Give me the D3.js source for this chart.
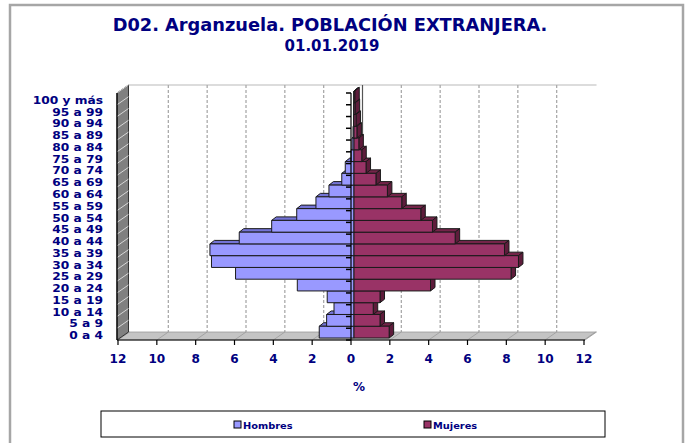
<!DOCTYPE html>
<html>
<head>
<meta charset="utf-8">
<script src="https://cdn.jsdelivr.net/npm/d3@7"></script>
<style>
  body { margin: 0; background: #fff; }
  text { font-family: "DejaVu Sans", Verdana, sans-serif; font-weight: bold; fill: #000080; }
</style>
</head>
<body>
<div id="chart"></div>
<script>
// age groups, bottom to top
const ageGroups = ["0 a 4", "5 a 9", "10 a 14", "15 a 19", "20 a 24", "25 a 29", "30 a 34",
  "35 a 39", "40 a 44", "45 a 49", "50 a 54", "55 a 59", "60 a 64", "65 a 69", "70 a 74",
  "75 a 79", "80 a 84", "85 a 89", "90 a 94", "95 a 99", "100 y más"];
// % of foreign population
const hombres = [1.79, 1.41, 1.03, 1.38, 2.92, 6.10, 7.34, 7.42, 5.91, 4.24, 2.95, 1.96, 1.29,
  0.63, 0.45, 0.15, 0.10, 0.05, 0.02, 0.01, 0.0];
const mujeres = [1.81, 1.34, 0.99, 1.34, 3.94, 8.09, 8.47, 7.75, 5.21, 4.04, 3.44, 2.46, 1.72,
  1.13, 0.62, 0.40, 0.25, 0.15, 0.10, 0.06, 0.04];
const xTicks = [-12, -10, -8, -6, -4, -2, 0, 2, 4, 6, 8, 10, 12];
const series = ["Hombres", "Mujeres"];

const width = 689, height = 443;
const wall = { dx: 11.5, dy: 8 };      // depth of the back wall
const barOff = { dx: 3, dy: 2 };       // bars sit a bit behind the front plane
const barDepth = { dx: 4.5, dy: 3.5 };
const stretch = 1.2;                   // the original font is wide and short

const colors = {
  Hombres: { front: "#9999ff", top: "#7474d6", side: "#6a6acc" },
  Mujeres: { front: "#993366", top: "#742449", side: "#5e1c3b" }
};

const svg = d3.select("#chart").append("svg")
  .attr("width", width).attr("height", height);

// outer frame
svg.append("rect")
  .attr("x", 10).attr("y", 5).attr("width", 673).attr("height", 460)
  .attr("fill", "none").attr("stroke", "#a6a6a6").attr("stroke-width", 2.5);

// title
svg.append("text").attr("x", 330).attr("y", 31).attr("text-anchor", "middle")
  .attr("font-size", 17.8).text("D02. Arganzuela. POBLACIÓN EXTRANJERA.");
svg.append("text").attr("x", 332).attr("y", 51).attr("text-anchor", "middle")
  .attr("font-size", 15).text("01.01.2019");

// scales (front plane)
const x = d3.scaleLinear().domain([-12, 12]).range([118, 584]);
const y = d3.scaleBand().domain(ageGroups).range([340, 93]).padding(0);
const bw = y.bandwidth();
const plotTop = 93, plotBottom = 340, plotLeft = x(-12) - 1, plotRight = x(12) + 1;

const poly = pts => pts.map(p => p.join(",")).join(" ");

// back wall
svg.append("polygon")
  .attr("points", poly([[plotLeft + wall.dx, plotTop - wall.dy], [plotRight + wall.dx, plotTop - wall.dy],
    [plotRight + wall.dx, plotBottom - wall.dy], [plotLeft + wall.dx, plotBottom - wall.dy]]))
  .attr("fill", "#fff").attr("stroke", "none");
svg.append("line")
  .attr("x1", plotLeft + wall.dx).attr("x2", plotRight + wall.dx)
  .attr("y1", plotTop - wall.dy).attr("y2", plotTop - wall.dy)
  .attr("stroke", "#d0d0d0").attr("stroke-width", 1.5);

// gridlines on back wall
svg.selectAll(".grid")
  .data(xTicks.filter(t => Math.abs(t) < 12))
  .join("line")
  .attr("x1", d => x(d) + wall.dx).attr("x2", d => x(d) + wall.dx)
  .attr("y1", plotTop - wall.dy).attr("y2", plotBottom - wall.dy)
  .attr("stroke", d => d === 0 ? "#555" : "#aaa")
  .attr("stroke-width", d => d === 0 ? 1.2 : 1.3)
  .attr("stroke-dasharray", d => d === 0 ? null : "3,2");

// floor
svg.append("polygon")
  .attr("points", poly([[plotLeft, plotBottom], [plotRight, plotBottom],
    [plotRight + wall.dx, plotBottom - wall.dy], [plotLeft + wall.dx, plotBottom - wall.dy]]))
  .attr("fill", "#c4c4c4").attr("stroke", "#999").attr("stroke-width", 0.8);
svg.selectAll(".floorline")
  .data(xTicks)
  .join("line")
  .attr("x1", d => x(d)).attr("x2", d => x(d) + wall.dx)
  .attr("y1", plotBottom).attr("y2", plotBottom - wall.dy)
  .attr("stroke", "#9a9a9a").attr("stroke-width", 0.8);

// left side wall
svg.append("polygon")
  .attr("points", poly([[plotLeft, plotTop], [plotLeft + wall.dx, plotTop - wall.dy],
    [plotLeft + wall.dx, plotBottom - wall.dy], [plotLeft, plotBottom]]))
  .attr("fill", "#808080").attr("stroke", "#333").attr("stroke-width", 1);
svg.selectAll(".wallline")
  .data(ageGroups)
  .join("line")
  .attr("x1", plotLeft).attr("x2", plotLeft + wall.dx)
  .attr("y1", d => y(d)).attr("y2", d => y(d) - wall.dy)
  .attr("stroke", "#d8d8d8").attr("stroke-width", 1);

// bars, drawn from bottom row to top row so upper fronts hide lower tops
const rows = ageGroups.map((g, i) => ({ group: g, Hombres: -hombres[i], Mujeres: mujeres[i] }));

rows.forEach(r => {
  series.forEach(s => {
    const v = r[s];
    const xa = x(Math.min(v, 0)) + barOff.dx;
    const xb = x(Math.max(v, 0)) + barOff.dx;
    const yt = y(r.group) - barOff.dy;
    const yb = yt + bw;
    const g = svg.append("g").attr("stroke", "#1a1a1a").attr("stroke-width", 1)
      .attr("stroke-linejoin", "round");
    g.append("polygon")
      .attr("points", poly([[xa, yt], [xb, yt], [xb + barDepth.dx, yt - barDepth.dy],
        [xa + barDepth.dx, yt - barDepth.dy]]))
      .attr("fill", colors[s].top);
    g.append("polygon")
      .attr("points", poly([[xb, yt], [xb + barDepth.dx, yt - barDepth.dy],
        [xb + barDepth.dx, yb - barDepth.dy], [xb, yb]]))
      .attr("fill", colors[s].side);
    g.append("rect")
      .attr("x", xa).attr("y", yt).attr("width", Math.max(xb - xa, 0.01)).attr("height", bw)
      .attr("fill", colors[s].front);
  });
});

// category axis at zero
svg.append("line")
  .attr("x1", x(0)).attr("x2", x(0)).attr("y1", plotTop).attr("y2", plotBottom)
  .attr("stroke", "#000").attr("stroke-width", 1.2);
svg.selectAll(".ctick")
  .data(d3.range(ageGroups.length + 1))
  .join("line")
  .attr("x1", x(0) - 5).attr("x2", x(0))
  .attr("y1", d => plotBottom - d * bw).attr("y2", d => plotBottom - d * bw)
  .attr("stroke", "#000").attr("stroke-width", 1.5);

// front edges
svg.append("line")
  .attr("x1", plotLeft).attr("x2", plotRight).attr("y1", plotBottom).attr("y2", plotBottom)
  .attr("stroke", "#000").attr("stroke-width", 1.2);
svg.append("line")
  .attr("x1", plotLeft).attr("x2", plotLeft).attr("y1", plotTop).attr("y2", plotBottom)
  .attr("stroke", "#000").attr("stroke-width", 1.2);

// value axis
svg.selectAll(".xtick")
  .data(xTicks)
  .join("line")
  .attr("x1", d => x(d)).attr("x2", d => x(d))
  .attr("y1", plotBottom).attr("y2", plotBottom + 5)
  .attr("stroke", "#000").attr("stroke-width", 1.2);
svg.selectAll(".xlabel")
  .data(xTicks)
  .join("text")
  .attr("transform", d => `translate(${x(d)},362.5) scale(1.05,1)`)
  .attr("text-anchor", "middle").attr("font-size", 11.5)
  .text(d => Math.abs(d));

svg.append("text").attr("x", 359).attr("y", 391).attr("text-anchor", "middle")
  .attr("font-size", 12).text("%");

// category labels
svg.selectAll(".ylabel")
  .data(ageGroups)
  .join("text")
  .attr("transform", d => `translate(103,${y(d) + bw / 2 + 5}) scale(${stretch},1)`)
  .attr("text-anchor", "end").attr("font-size", 10.2)
  .text(d => d);

// legend
svg.append("rect")
  .attr("x", 101).attr("y", 411).attr("width", 504).attr("height", 26)
  .attr("fill", "#fff").attr("stroke", "#000").attr("stroke-width", 1);
const legendX = d3.scaleOrdinal().domain(series).range([234, 424]);
const leg = svg.selectAll(".leg").data(series).join("g")
  .attr("transform", d => `translate(${legendX(d)},421)`);
leg.append("rect").attr("width", 7).attr("height", 7)
  .attr("fill", d => colors[d].front).attr("stroke", "#000").attr("stroke-width", 1);
leg.append("text").attr("transform", `translate(9,7.5) scale(${stretch},1)`)
  .attr("font-size", 8.2).text(d => d);
</script>
</body>
</html>
